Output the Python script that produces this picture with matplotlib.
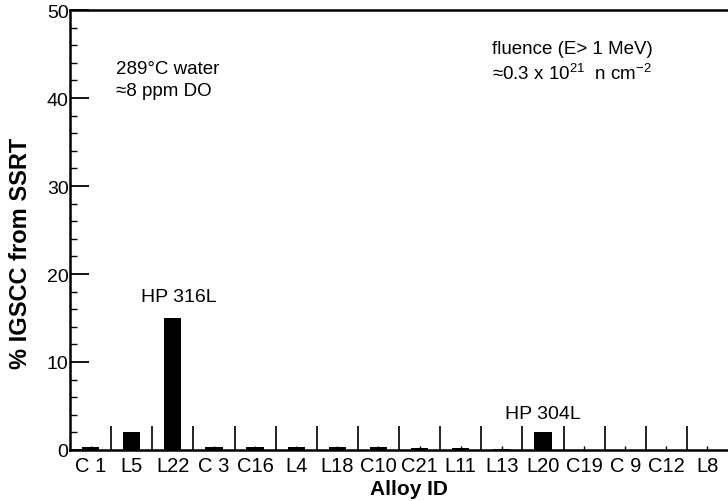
import matplotlib.pyplot as plt
import numpy as np
from matplotlib.ticker import MultipleLocator, FixedLocator

plt.rcParams["font.family"] = ["Liberation Sans", "DejaVu Sans"]
plt.rcParams["mathtext.fontset"] = "custom"
plt.rcParams["mathtext.rm"] = "Liberation Sans"
plt.rcParams["mathtext.it"] = "Liberation Sans:italic"

alloys = ["C 1", "L5", "L22", "C 3", "C16", "L4", "L18", "C10",
          "C21", "L11", "L13", "L20", "C19", "C 9", "C12", "L8"]
igscc = [0.3, 2.0, 15.0, 0.3, 0.3, 0.3, 0.3, 0.3,
         0.2, 0.2, 0.1, 2.0, 0.0, 0.0, 0.0, 0.0]

fig = plt.figure(figsize=(7.28, 5.02), dpi=100)
ax = fig.add_axes([70 / 728, 51 / 502, 1.0 - 70 / 728, 440 / 502])

x = np.arange(len(alloys)) + 0.5
ax.bar(x, igscc, width=0.42, color="black")

ax.set_xlim(0, len(alloys))
ax.set_ylim(0, 50)

ax.xaxis.set_major_locator(FixedLocator(np.arange(1, len(alloys))))
ax.xaxis.set_minor_locator(FixedLocator(x))
ax.set_xticklabels([])
ax.set_xticklabels(alloys, minor=True, fontsize=14.5)
ax.tick_params(axis="x", which="major", direction="in", length=17, width=1.2)
ax.tick_params(axis="x", which="minor", direction="in", length=3, width=1.0, pad=4)

ax.yaxis.set_major_locator(MultipleLocator(10))
ax.yaxis.set_minor_locator(MultipleLocator(2))
ax.tick_params(axis="y", which="major", direction="in", length=14, width=1.3,
               labelsize=14, pad=1)
ax.tick_params(axis="y", which="minor", direction="in", length=5, width=1.0)

for side in ["left", "bottom", "top"]:
    ax.spines[side].set_linewidth(1.8)
ax.spines["right"].set_visible(False)

ax.set_xlabel("Alloy ID", fontsize=15, fontweight="bold")
ax.xaxis.set_label_coords(0.515, -0.066)
ax.set_ylabel("% IGSCC from SSRT", fontsize=17, fontweight="bold")
ax.yaxis.set_label_coords(-0.058, 0.45)

ax.text(1.12, 43.3, "289\u00b0C water", fontsize=13.5, va="center")
ax.text(1.12, 40.9, "\u22488 ppm DO", fontsize=13.5, va="center")
ax.text(10.27, 45.6, "fluence (E> 1 MeV)", fontsize=13.5, va="center")
ax.text(10.27, 42.8, "\u22480.3 x 10$^{21}$  n cm$^{-2}$", fontsize=13.5,
        va="center")
ax.text(2.65, 17.5, "HP 316L", fontsize=14, va="center", ha="center")
ax.text(11.5, 4.1, "HP 304L", fontsize=14, va="center", ha="center")

fig.savefig("out.png", dpi=100)
